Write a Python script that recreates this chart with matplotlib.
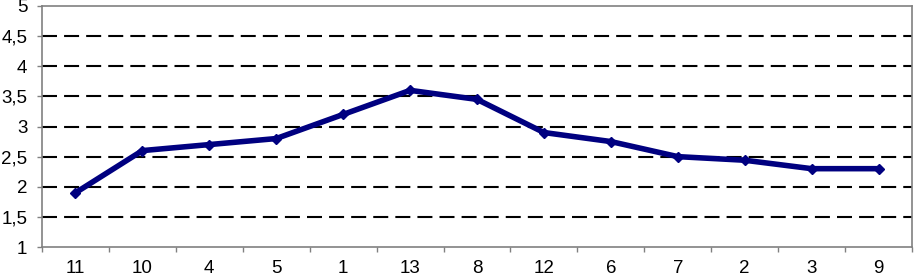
import matplotlib
matplotlib.use("Agg")
import matplotlib.pyplot as plt
import numpy as np

categories = ["11", "10", "4", "5", "1", "13", "8", "12", "6", "7", "2", "3", "9"]
values = [1.9, 2.6, 2.7, 2.8, 3.2, 3.6, 3.45, 2.9, 2.75, 2.5, 2.44, 2.3, 2.3]
yticks = [1, 1.5, 2, 2.5, 3, 3.5, 4, 4.5, 5]
ytick_labels = ["1", "1,5", "2", "2,5", "3", "3,5", "4", "4,5", "5"]

plt.rcParams['font.family'] = ['Liberation Sans', 'DejaVu Sans']

fig = plt.figure(figsize=(9.14, 2.76), dpi=100)
ax = fig.add_axes([42/914, 29/276, 870/914, 241/276])

x = np.arange(len(categories))
ax.plot(x, values, color="#000080", lw=4, marker="D", markersize=5.5, zorder=3)

ax.set_xlim(-0.5, len(categories) - 0.5)
ax.set_ylim(1, 5)
ax.set_yticks(yticks)
ax.set_yticklabels(ytick_labels, fontsize=13.5)
ax.set_xticks(x)
ax.set_xticklabels(categories, fontsize=13.5)
ax.set_xticks(np.arange(-0.5, len(categories), 1), minor=True)
ax.tick_params(axis="x", which="major", length=0, pad=9.5)
ax.tick_params(axis="x", which="minor", length=3.6, color="#808080", width=1)
ax.tick_params(axis="y", length=3.6, color="#808080", width=1, pad=7)

for yv in yticks[1:-1]:
    ax.axhline(yv, color="black", lw=1.5, dashes=(7.2, 3.4), zorder=1)

for s in ax.spines.values():
    s.set_color("#808080")
    s.set_linewidth(1.2)

fig.savefig("out.png", dpi=100)
